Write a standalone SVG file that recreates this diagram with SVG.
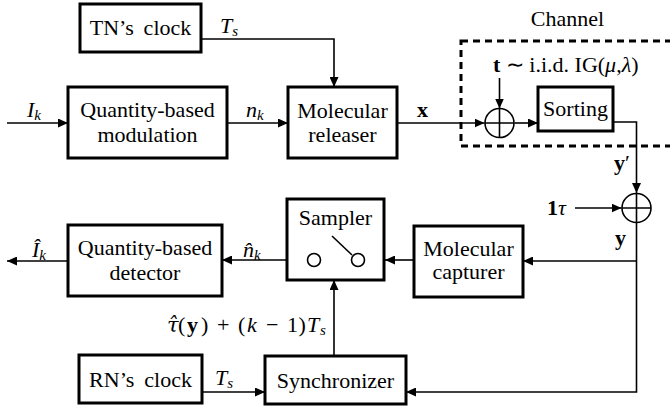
<svg xmlns="http://www.w3.org/2000/svg" width="670" height="413" viewBox="0 0 670 413" font-family="'Liberation Serif', 'Times New Roman', serif">
<style>
.box{fill:#fff;stroke:#000;stroke-width:3}
.ln{fill:none;stroke:#000;stroke-width:1.6}
.t{font-size:22px;fill:#000;text-anchor:middle}
.m{font-size:22px;fill:#000}
.i{font-style:italic}
.b{font-weight:bold}
.sub{font-size:15px;font-style:italic}
</style>
<defs>
<marker id="ah" markerUnits="userSpaceOnUse" markerWidth="11" markerHeight="9" refX="10" refY="4.5" orient="auto">
<path d="M0,0 L10,4.5 L0,9 z" fill="#000"/>
</marker>
</defs>
<rect width="670" height="413" fill="#fff"/>

<g id="channel">
<rect x="461" y="41" width="215" height="105" fill="none" stroke="#000" stroke-width="3" stroke-dasharray="7 5"/>
<text class="t" x="567.5" y="26" font-family="'Liberation Serif', 'Times New Roman', serif" font-size="24">Channel</text>
</g>

<g id="connectors">
<path class="ln" d="M201,39 H334 V87" marker-end="url(#ah)"/>
<path class="ln" d="M7,123 H68" marker-end="url(#ah)"/>
<path class="ln" d="M227,123 H288" marker-end="url(#ah)"/>
<path class="ln" d="M397,123 H484.5" marker-end="url(#ah)"/>
<path class="ln" d="M499.5,78 V108.5" marker-end="url(#ah)"/>
<path class="ln" d="M514.5,123 H538" marker-end="url(#ah)"/>
<path class="ln" d="M613,122 H636.5 V193" marker-end="url(#ah)"/>
<path class="ln" d="M575,208 H621.5" marker-end="url(#ah)"/>
<path class="ln" d="M636.5,223 V392 H406" marker-end="url(#ah)"/>
<path class="ln" d="M636.5,261 H523" marker-end="url(#ah)"/>
<path class="ln" d="M414,260 H385" marker-end="url(#ah)"/>
<path class="ln" d="M385,260 H364.5"/>
<path class="ln" d="M307.5,260 H222" marker-end="url(#ah)"/>
<path class="ln" d="M68,261 H7" marker-end="url(#ah)"/>
<path class="ln" d="M334,356 V280" marker-end="url(#ah)"/>
<path class="ln" d="M202,392 H265" marker-end="url(#ah)"/>
</g>

<g id="tn-clock">
<rect class="box" x="80" y="4" width="121" height="48"/>
<text class="t" x="140.5" y="35" font-family="'Liberation Serif', 'Times New Roman', serif">TN’s&#8201; clock</text>
</g>
<g id="modulation">
<rect class="box" x="68" y="87" width="159" height="71"/>
<text class="t" x="147.5" y="117" font-family="'Liberation Serif', 'Times New Roman', serif">Quantity-based</text>
<text class="t" x="147.5" y="142" font-family="'Liberation Serif', 'Times New Roman', serif">modulation</text>
</g>
<g id="releaser">
<rect class="box" x="288" y="87" width="109" height="71"/>
<text class="t" x="342.5" y="118" font-family="'Liberation Serif', 'Times New Roman', serif">Molecular</text>
<text class="t" x="342.5" y="142" font-family="'Liberation Serif', 'Times New Roman', serif">releaser</text>
</g>
<g id="adder1">
<circle cx="499.5" cy="123" r="14.5" fill="#fff" stroke="#000" stroke-width="1.6"/>
<path class="ln" d="M485,123 H514 M499.5,108.5 V137.5"/>
</g>
<g id="sorting">
<rect class="box" x="538" y="87" width="75" height="44"/>
<text class="t" x="575.5" y="116" font-family="'Liberation Serif', 'Times New Roman', serif">Sorting</text>
</g>
<g id="adder2">
<circle cx="636.5" cy="208" r="14.5" fill="#fff" stroke="#000" stroke-width="1.6"/>
<path class="ln" d="M622,208 H651 M636.5,193.5 V222.5"/>
</g>
<g id="capturer">
<rect class="box" x="414" y="226" width="109" height="71"/>
<text class="t" x="468.5" y="256" font-family="'Liberation Serif', 'Times New Roman', serif">Molecular</text>
<text class="t" x="468.5" y="279" font-family="'Liberation Serif', 'Times New Roman', serif">capturer</text>
</g>
<g id="sampler">
<rect class="box" x="287" y="199" width="97" height="81"/>
<text class="t" x="335.5" y="225" font-family="'Liberation Serif', 'Times New Roman', serif">Sampler</text>
<circle cx="314" cy="260" r="6.5" fill="#fff" stroke="#000" stroke-width="1.6"/>
<circle cx="358" cy="260" r="6.5" fill="#fff" stroke="#000" stroke-width="1.6"/>
<path class="ln" d="M332,236 L352,255"/>
</g>
<g id="detector">
<rect class="box" x="68" y="225" width="154" height="71"/>
<text class="t" x="145" y="255" font-family="'Liberation Serif', 'Times New Roman', serif">Quantity-based</text>
<text class="t" x="145" y="280" font-family="'Liberation Serif', 'Times New Roman', serif">detector</text>
</g>
<g id="rn-clock">
<rect class="box" x="79" y="355" width="123" height="48"/>
<text class="t" x="140.5" y="387" font-family="'Liberation Serif', 'Times New Roman', serif">RN’s&#8201; clock</text>
</g>
<g id="synchronizer">
<rect class="box" x="265" y="356" width="141" height="48"/>
<text class="t" x="335.5" y="388" font-family="'Liberation Serif', 'Times New Roman', serif">Synchronizer</text>
</g>

<g id="labels" font-family="'Liberation Serif', 'Times New Roman', serif">
<text class="m i" x="220" y="33">T<tspan class="sub" dy="3">s</tspan></text>
<text class="m i" x="27" y="117">I<tspan class="sub" dy="3">k</tspan></text>
<text class="m i" x="246" y="117">n<tspan class="sub" dy="3">k</tspan></text>
<text class="m b" x="417" y="117">x</text>
<text class="m" x="493" y="72"><tspan class="b">t</tspan> ∼ i.i.d. IG(<tspan class="i">μ</tspan>,<tspan class="i">λ</tspan>)</text>
<text class="m b" x="614" y="170">y<tspan font-weight="normal">′</tspan></text>
<text class="m" x="547" y="215"><tspan class="b">1</tspan><tspan class="i">τ</tspan></text>
<text class="m b" x="615" y="245">y</text>
<text class="m i" x="243" y="257">n̂<tspan class="sub" dy="3">k</tspan></text>
<text class="m i" x="32" y="257">Î<tspan class="sub" dy="3">k</tspan></text>
<text class="m" y="332" font-size="23"><tspan class="i" x="167" font-family="'DejaVu Serif', serif" font-size="21">τ̂</tspan><tspan x="178">(</tspan><tspan class="b" x="187">y</tspan><tspan x="201">)</tspan><tspan x="217">+</tspan><tspan x="238">(</tspan><tspan class="i" x="247">k</tspan><tspan x="266">−</tspan><tspan x="287">1</tspan><tspan x="298.5">)</tspan><tspan class="i" x="307">T</tspan><tspan class="sub" x="320" dy="3">s</tspan></text>
<text class="m i" x="215" y="385">T<tspan class="sub" dy="3">s</tspan></text>
</g>
</svg>
